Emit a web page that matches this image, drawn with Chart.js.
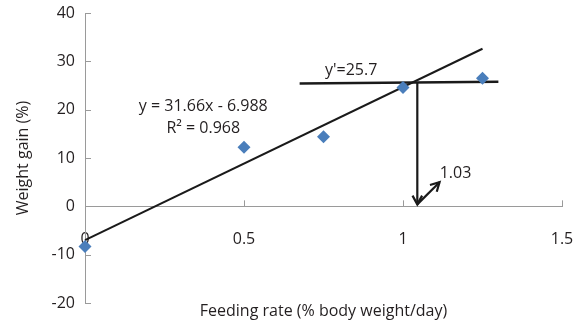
<!DOCTYPE html>
<html><head><meta charset="utf-8">
<script src="https://cdn.jsdelivr.net/npm/chart.js@4/dist/chart.umd.min.js"></script>
<style>html,body{margin:0;padding:0;background:#fff}#wrap{width:579px;height:326px}</style>
</head><body><div id="wrap"><canvas id="c"></canvas></div>
<script>
const feedingRate = [0, 0.5, 0.75, 1, 1.25];
const weightGain = [-8.3, 12.2, 14.4, 24.6, 26.5];
const trendX = [0, 1.25];
const trendY = [-6.99, 32.6];
const targetX = [0.675, 1.30];
const targetY = [25.4, 25.8];
const dropX = [1.045, 1.045];
const dropY = [25.6, 0.4];
const diagX = [1.045, 1.115];
const diagY = [0.4, 5.0];
const xTicks = [0, 0.5, 1, 1.5];
const yTicks = [-20, -10, 0, 10, 20, 30, 40];
const labels = [
  {text: "y = 31.66x - 6.988", x: 0.372, y: 20.6},
  {text: "R² = 0.968", x: 0.372, y: 16.2},
  {text: "y'=25.7", x: 0.837, y: 28.1},
  {text: "1.03", x: 1.165, y: 6.8}
];
const FONT = "'Open Sans', sans-serif";
const TXT = '#231f20';
const AX = '#9a9a9a';
const pts = (xs, ys) => xs.map((x, i) => ({x, y: ys[i]}));

const overlay = {
  id: 'overlay',
  afterDatasetsDraw(chart) {
    const {ctx, scales: {x, y}} = chart;
    ctx.save();
    ctx.strokeStyle = AX; ctx.lineWidth = 1;
    const y0 = y.getPixelForValue(0);
    xTicks.forEach(v => { if (v === 0) return; const px = Math.round(x.getPixelForValue(v)) + 0.5; ctx.beginPath(); ctx.moveTo(px, y0); ctx.lineTo(px, y0 - 6); ctx.stroke(); });
    const x0 = x.getPixelForValue(0);
    yTicks.forEach(v => { if (v === 0) return; const py = Math.round(y.getPixelForValue(v)) + 0.5; ctx.beginPath(); ctx.moveTo(x0, py); ctx.lineTo(x0 + 6, py); ctx.stroke(); });
    const head = (xs, ys) => {
      const tx = x.getPixelForValue(xs[1]), ty = y.getPixelForValue(ys[1]);
      const fx = x.getPixelForValue(xs[0]), fy = y.getPixelForValue(ys[0]);
      const a = Math.atan2(ty - fy, tx - fx), L = 10, w = 0.5;
      ctx.strokeStyle = '#1a1a1a'; ctx.lineWidth = 2.2;
      ctx.beginPath();
      ctx.moveTo(tx - L * Math.cos(a - w), ty - L * Math.sin(a - w));
      ctx.lineTo(tx, ty);
      ctx.lineTo(tx - L * Math.cos(a + w), ty - L * Math.sin(a + w));
      ctx.stroke();
    };
    head(dropX, dropY);
    head(diagX, diagY);
    ctx.fillStyle = TXT; ctx.font = '16px ' + FONT; ctx.textAlign = 'center'; ctx.textBaseline = 'middle';
    labels.forEach(l => ctx.fillText(l.text, x.getPixelForValue(l.x), y.getPixelForValue(l.y)));
    ctx.restore();
  }
};

new Chart(document.getElementById('c'), {
  type: 'scatter',
  data: {
    datasets: [
      {data: pts(trendX, trendY), showLine: true, borderColor: '#1a1a1a', borderWidth: 2, pointRadius: 0, clip: false, order: 2},
      {data: pts(targetX, targetY), showLine: true, borderColor: '#1a1a1a', borderWidth: 2.5, pointRadius: 0, clip: false, order: 2},
      {data: pts(dropX, dropY), showLine: true, borderColor: '#1a1a1a', borderWidth: 2.2, pointRadius: 0, clip: false, order: 2},
      {data: pts(diagX, diagY), showLine: true, borderColor: '#1a1a1a', borderWidth: 2.2, pointRadius: 0, clip: false, order: 2},
      {data: pts(feedingRate, weightGain), pointStyle: 'rectRot', pointRadius: 6.5, backgroundColor: '#4a7ebb', borderColor: '#4a7ebb', borderWidth: 0, clip: false, order: 1}
    ]
  },
  options: {
    responsive: true, maintainAspectRatio: false, animation: false,
    layout: {padding: {left: 0, top: 13, right: 17, bottom: 23}},
    plugins: {legend: {display: false}, tooltip: {enabled: false}},
    scales: {
      x: {
        type: 'linear', position: {y: 0}, min: 0, max: 1.5,
        afterBuildTicks: s => { s.ticks = xTicks.map(v => ({value: v})); },
        ticks: {padding: 2, color: TXT, font: {family: FONT, size: 16}, maxRotation: 0, callback: v => String(v)},
        grid: {display: true, drawOnChartArea: false, drawTicks: true, tickLength: 22, tickColor: 'rgba(0,0,0,0)'},
        border: {display: true, color: AX, width: 1},
        title: {display: true, text: 'Feeding rate (% body weight/day)', color: TXT, font: {family: FONT, size: 16}, padding: {top: 50, bottom: 0}}
      },
      y: {
        type: 'linear', position: 'left', min: -20, max: 40,
        afterBuildTicks: s => { s.ticks = yTicks.map(v => ({value: v})); },
        afterFit: s => { s.width = 85; },
        ticks: {padding: 0, color: TXT, font: {family: FONT, size: 16}},
        grid: {display: true, drawOnChartArea: false, drawTicks: true, tickLength: 10, tickColor: 'rgba(0,0,0,0)'},
        border: {display: true, color: AX, width: 1},
        title: {display: true, text: 'Weight gain (%)', color: TXT, font: {family: FONT, size: 16}, padding: {top: 14, bottom: 0}}
      }
    }
  },
  plugins: [overlay]
});
</script></body></html>
